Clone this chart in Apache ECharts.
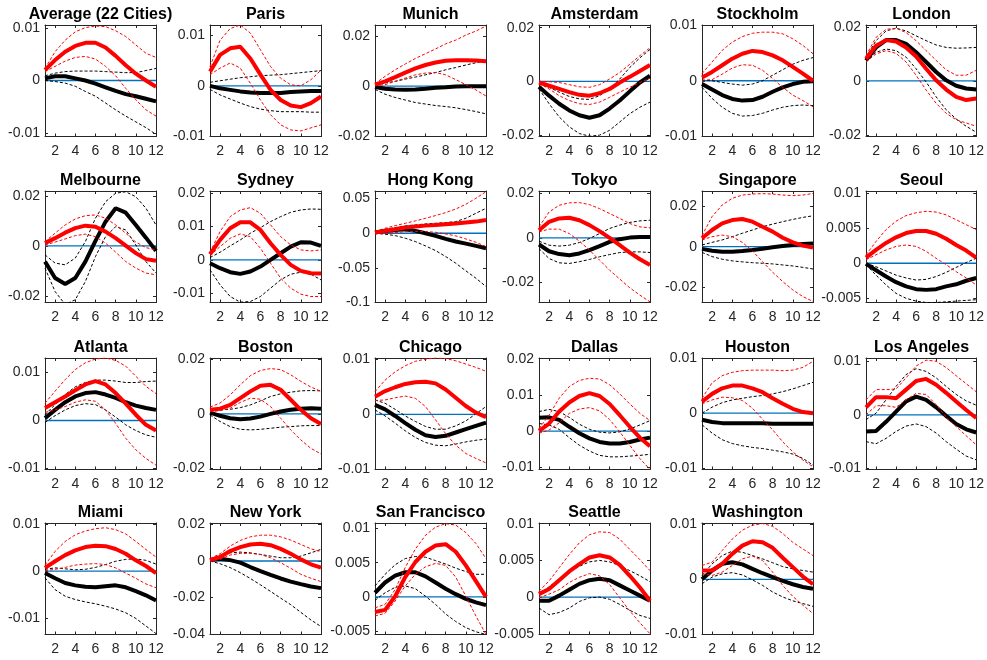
<!DOCTYPE html>
<html>
<head>
<meta charset="utf-8">
<script src="https://cdn.jsdelivr.net/npm/echarts@6/dist/echarts.min.js"></script>
<style>
html,body{margin:0;padding:0;background:#fff;}
#chart{width:987px;height:660px;}
</style>
</head>
<body>
<div id="chart"></div>
<script>
const cities = ['Average (22 Cities)','Paris','Munich','Amsterdam','Stockholm','London',
  'Melbourne','Sydney','Hong Kong','Tokyo','Singapore','Seoul',
  'Atlanta','Boston','Chicago','Dallas','Houston','Los Angeles',
  'Miami','New York','San Francisco','Seattle','Washington'];

const horizons = [1,2,3,4,5,6,7,8,9,10,11,12];
const xTicks = [2,4,6,8,10,12];

const yTicks = [
  [-0.01,0,0.01],[-0.01,0,0.01],[-0.02,0,0.02],[-0.02,0,0.02],[-0.01,0,0.01],[-0.02,0,0.02],
  [-0.02,0,0.02],[-0.01,0,0.01,0.02],[-0.1,-0.05,0,0.05],[-0.02,0,0.02],[-0.02,0,0.02],[-0.005,0,0.005,0.01],
  [-0.01,0,0.01],[-0.02,0,0.02],[-0.01,0,0.01],[-0.01,0,0.01,0.02],[-0.01,0,0.01],[-0.01,0,0.01],
  [-0.01,0,0.01],[-0.04,-0.02,0,0.02],[-0.005,0,0.005,0.01],[-0.005,0,0.005,0.01],[-0.01,0,0.01]
];

const yLimits = [
  [-0.0107,0.0106],[-0.0100,0.0120],[-0.0200,0.0243],[-0.0205,0.0210],[-0.0101,0.0101],[-0.0206,0.0207],
  [-0.0227,0.0220],[-0.0128,0.0207],[-0.1000,0.0610],[-0.0290,0.0210],[-0.0275,0.0274],[-0.0056,0.0103],
  [-0.0102,0.0130],[-0.0205,0.0206],[-0.0100,0.0102],[-0.0106,0.0202],[-0.0102,0.0100],[-0.0102,0.0106],
  [-0.0134,0.0102],[-0.0404,0.0209],[-0.0055,0.0108],[-0.0051,0.0101],[-0.0100,0.0102]
];

const blackMid = [
  [0.0004,0.0008,0.0008,0.0004,0,-0.0006,-0.0013,-0.0020,-0.0026,-0.0030,-0.0035,-0.0040],
  [0,-0.0005,-0.0008,-0.0011,-0.0013,-0.0014,-0.0014,-0.0014,-0.0012,-0.0011,-0.0010,-0.0010],
  [-0.0003,-0.0010,-0.0013,-0.0014,-0.0013,-0.0010,-0.0006,-0.0004,-0.0001,0,0,0],
  [-0.0020,-0.0053,-0.0083,-0.0108,-0.0126,-0.0135,-0.0126,-0.0101,-0.0071,-0.0037,-0.0004,0.0021],
  [-0.0006,-0.0016,-0.0026,-0.0033,-0.0036,-0.0035,-0.0029,-0.0020,-0.0012,-0.0006,-0.0002,-0.0001],
  [0.0076,0.0124,0.0151,0.0151,0.0137,0.0106,0.0070,0.0033,0.0002,-0.0018,-0.0028,-0.0032],
  [-0.0063,-0.0129,-0.0153,-0.0129,-0.0063,0.0020,0.0097,0.0151,0.0133,0.0084,0.0033,-0.0020],
  [-0.0010,-0.0025,-0.0037,-0.0042,-0.0035,-0.0020,0,0.0020,0.0040,0.0053,0.0052,0.0042],
  [0.0010,0.0034,0.0048,0.0058,0.0034,0,-0.0038,-0.0082,-0.0120,-0.0150,-0.0183,-0.0216],
  [-0.0030,-0.0060,-0.0073,-0.0078,-0.0070,-0.0055,-0.0037,-0.0018,-0.0006,0.0001,0.0004,0.0004],
  [-0.0011,-0.0020,-0.0025,-0.0025,-0.0021,-0.0016,-0.0010,-0.0003,0.0003,0.0008,0.0013,0.0016],
  [-0.0001,-0.0010,-0.0019,-0.0027,-0.0033,-0.0037,-0.0038,-0.0037,-0.0033,-0.0030,-0.0025,-0.0021],
  [0.0005,0.0022,0.0038,0.0050,0.0057,0.0059,0.0054,0.0047,0.0038,0.0031,0.0026,0.0022],
  [0.0005,-0.0007,-0.0016,-0.0020,-0.0017,-0.0010,0,0.0009,0.0015,0.0019,0.0021,0.0019],
  [0.0017,0.0009,-0.0003,-0.0016,-0.0028,-0.0038,-0.0041,-0.0039,-0.0033,-0.0027,-0.0021,-0.0015],
  [0.0037,0.0038,0.0031,0.0012,-0.0006,-0.0020,-0.0030,-0.0034,-0.0034,-0.0030,-0.0023,-0.0018],
  [-0.0012,-0.0016,-0.0018,-0.0018,-0.0018,-0.0018,-0.0018,-0.0019,-0.0019,-0.0019,-0.0019,-0.0019],
  [-0.0031,-0.0030,-0.0013,0.0006,0.0025,0.0034,0.0028,0.0014,-0.0002,-0.0017,-0.0027,-0.0033],
  [-0.0004,-0.0015,-0.0025,-0.0030,-0.0033,-0.0034,-0.0032,-0.0030,-0.0034,-0.0042,-0.0051,-0.0062],
  [0.0005,0.0013,0.0005,-0.0009,-0.0033,-0.0055,-0.0076,-0.0096,-0.0113,-0.0127,-0.0140,-0.0149],
  [0.0006,0.0021,0.0031,0.0036,0.0036,0.0030,0.0021,0.0012,0.0004,-0.0003,-0.0008,-0.0012],
  [-0.0005,-0.0005,0.0002,0.0010,0.0018,0.0023,0.0025,0.0023,0.0016,0.0009,0.0002,-0.0005],
  [0,0.0016,0.0028,0.0031,0.0027,0.0019,0.0011,0.0004,-0.0003,-0.0009,-0.0014,-0.0017]
];

const blackHi = [
  [0.0009,0.0014,0.0017,0.0018,0.0018,0.0018,0.0017,0.0016,0.0015,0.0015,0.0019,0.0023],
  [0.0007,0.0010,0.0013,0.0016,0.0018,0.0020,0.0021,0.0022,0.0024,0.0026,0.0028,0.0030],
  [0.0006,0.0013,0.0019,0.0028,0.0036,0.0045,0.0054,0.0065,0.0074,0.0084,0.0093,0.0101],
  [-0.0007,-0.0022,-0.0040,-0.0056,-0.0065,-0.0067,-0.0053,-0.0028,0.0009,0.0052,0.0088,0.0119],
  [0.0001,0,-0.0003,-0.0006,-0.0008,-0.0006,0,0.0010,0.0020,0.0030,0.0037,0.0042],
  [0.0088,0.0149,0.0185,0.0195,0.0185,0.0167,0.0149,0.0133,0.0124,0.0121,0.0122,0.0124],
  [-0.0036,-0.0069,-0.0076,-0.0049,0.0017,0.0111,0.0177,0.0211,0.0217,0.0197,0.0151,0.0084],
  [0.0007,0.0023,0.0042,0.0060,0.0080,0.0097,0.0115,0.0130,0.0143,0.0150,0.0153,0.0152],
  [0.0024,0.0058,0.0082,0.0106,0.0120,0.0135,0.0144,0.0154,0.0168,0.0216,0.0288,0.0360],
  [-0.0015,-0.0033,-0.0037,-0.0033,-0.0021,-0.0003,0.0019,0.0042,0.0057,0.0069,0.0076,0.0079],
  [0.0008,0.0021,0.0033,0.0049,0.0066,0.0082,0.0098,0.0111,0.0123,0.0134,0.0144,0.0152],
  [0,-0.0005,-0.0011,-0.0017,-0.0021,-0.0024,-0.0023,-0.0019,-0.0013,-0.0006,0.0001,0.0007],
  [0.0012,0.0033,0.0054,0.0070,0.0079,0.0084,0.0084,0.0082,0.0079,0.0079,0.0081,0.0082],
  [0.0012,0.0015,0.0017,0.0023,0.0033,0.0048,0.0064,0.0074,0.0080,0.0085,0.0086,0.0085],
  [0.0026,0.0020,0.0009,-0.0003,-0.0013,-0.0022,-0.0027,-0.0027,-0.0021,-0.0012,0.0001,0.0014],
  [0.0054,0.0060,0.0054,0.0038,0.0019,0.0005,-0.0003,-0.0005,-0.0002,0.0006,0.0017,0.0029],
  [0,0.0011,0.0019,0.0024,0.0027,0.0030,0.0032,0.0035,0.0039,0.0044,0.0050,0.0056],
  [-0.0009,0.0003,0.0028,0.0053,0.0075,0.0086,0.0081,0.0069,0.0053,0.0038,0.0026,0.0018],
  [0.0004,0.0007,0.0005,0.0003,0.0004,0.0008,0.0014,0.0021,0.0025,0.0026,0.0023,0.0015],
  [0.0009,0.0031,0.0045,0.0049,0.0045,0.0036,0.0027,0.0018,0.0018,0.0027,0.0045,0.0064],
  [0.0016,0.0033,0.0047,0.0056,0.0059,0.0058,0.0053,0.0048,0.0042,0.0037,0.0033,0.0033],
  [0.0004,0.0014,0.0024,0.0035,0.0042,0.0048,0.0050,0.0048,0.0043,0.0036,0.0029,0.0021],
  [0.0007,0.0028,0.0043,0.0051,0.0049,0.0043,0.0037,0.0030,0.0023,0.0019,0.0016,0.0013]
];

const blackLo = [
  [0,-0.0002,-0.0005,-0.0011,-0.0021,-0.0030,-0.0043,-0.0056,-0.0068,-0.0079,-0.0090,-0.0103],
  [-0.0007,-0.0018,-0.0026,-0.0034,-0.0041,-0.0046,-0.0049,-0.0051,-0.0051,-0.0051,-0.0052,-0.0052],
  [-0.0013,-0.0032,-0.0045,-0.0055,-0.0065,-0.0071,-0.0077,-0.0081,-0.0086,-0.0093,-0.0101,-0.0110],
  [-0.0028,-0.0083,-0.0132,-0.0169,-0.0194,-0.0204,-0.0200,-0.0182,-0.0151,-0.0120,-0.0096,-0.0077],
  [-0.0012,-0.0032,-0.0048,-0.0059,-0.0064,-0.0063,-0.0059,-0.0053,-0.0048,-0.0045,-0.0044,-0.0045],
  [0.0073,0.0106,0.0118,0.0112,0.0088,0.0045,-0.0004,-0.0059,-0.0107,-0.0141,-0.0168,-0.0190],
  [-0.0089,-0.0183,-0.0235,-0.0216,-0.0143,-0.0043,0.0037,0.0077,0.0064,0.0004,-0.0063,-0.0109],
  [-0.0030,-0.0075,-0.0110,-0.0127,-0.0125,-0.0110,-0.0085,-0.0060,-0.0043,-0.0037,-0.0043,-0.0060],
  [0,-0.0014,-0.0034,-0.0072,-0.0120,-0.0183,-0.0250,-0.0336,-0.0432,-0.0543,-0.0649,-0.0769],
  [-0.0048,-0.0093,-0.0112,-0.0115,-0.0107,-0.0097,-0.0085,-0.0075,-0.0066,-0.0063,-0.0063,-0.0066],
  [-0.0028,-0.0049,-0.0062,-0.0070,-0.0075,-0.0079,-0.0082,-0.0085,-0.0090,-0.0095,-0.0102,-0.0110],
  [-0.0002,-0.0017,-0.0031,-0.0043,-0.0050,-0.0054,-0.0056,-0.0056,-0.0055,-0.0054,-0.0053,-0.0052],
  [-0.0004,0.0010,0.0022,0.0031,0.0035,0.0033,0.0022,0.0007,-0.0009,-0.0021,-0.0030,-0.0035],
  [-0.0004,-0.0028,-0.0047,-0.0057,-0.0059,-0.0057,-0.0053,-0.0049,-0.0047,-0.0044,-0.0043,-0.0043],
  [0.0008,-0.0003,-0.0016,-0.0030,-0.0042,-0.0051,-0.0056,-0.0057,-0.0054,-0.0050,-0.0047,-0.0045],
  [0.0021,0.0017,0.0005,-0.0018,-0.0039,-0.0055,-0.0067,-0.0071,-0.0071,-0.0069,-0.0067,-0.0064],
  [-0.0021,-0.0036,-0.0048,-0.0055,-0.0059,-0.0062,-0.0064,-0.0067,-0.0070,-0.0074,-0.0082,-0.0094],
  [-0.0050,-0.0054,-0.0044,-0.0031,-0.0021,-0.0017,-0.0022,-0.0034,-0.0050,-0.0064,-0.0077,-0.0084],
  [-0.0014,-0.0039,-0.0053,-0.0060,-0.0065,-0.0069,-0.0074,-0.0080,-0.0088,-0.0100,-0.0116,-0.0132],
  [0,-0.0015,-0.0036,-0.0064,-0.0096,-0.0131,-0.0167,-0.0204,-0.0240,-0.0282,-0.0324,-0.0360],
  [-0.0005,0.0006,0.0014,0.0016,0.0012,0.0001,-0.0011,-0.0025,-0.0036,-0.0045,-0.0051,-0.0055],
  [-0.0015,-0.0024,-0.0021,-0.0015,-0.0006,-0.0001,0,-0.0003,-0.0010,-0.0018,-0.0025,-0.0029],
  [-0.0008,0.0004,0.0010,0.0012,0.0008,-0.0001,-0.0011,-0.0023,-0.0032,-0.0039,-0.0044,-0.0049]
];

const redMid = [
  [0.0020,0.0039,0.0055,0.0066,0.0072,0.0072,0.0063,0.0047,0.0029,0.0013,0,-0.0012],
  [0.0028,0.0061,0.0074,0.0077,0.0054,0.0022,-0.0008,-0.0028,-0.0039,-0.0042,-0.0034,-0.0021],
  [0.0006,0.0019,0.0036,0.0054,0.0071,0.0084,0.0094,0.0101,0.0103,0.0103,0.0102,0.0099],
  [-0.0004,-0.0016,-0.0028,-0.0040,-0.0050,-0.0053,-0.0044,-0.0028,-0.0004,0.0017,0.0039,0.0061],
  [0.0006,0.0016,0.0028,0.0040,0.0049,0.0054,0.0052,0.0046,0.0037,0.0025,0.0013,0],
  [0.0082,0.0130,0.0151,0.0146,0.0124,0.0090,0.0045,0.0002,-0.0032,-0.0059,-0.0071,-0.0065],
  [0.0011,0.0031,0.0053,0.0071,0.0081,0.0077,0.0057,0.0031,0.0001,-0.0029,-0.0053,-0.0060],
  [0.0017,0.0060,0.0095,0.0113,0.0113,0.0090,0.0050,0.0015,-0.0015,-0.0033,-0.0040,-0.0041],
  [0.0010,0.0034,0.0058,0.0082,0.0096,0.0110,0.0120,0.0130,0.0140,0.0154,0.0168,0.0192],
  [0.0034,0.0072,0.0087,0.0090,0.0079,0.0057,0.0030,0,-0.0033,-0.0066,-0.0096,-0.0122],
  [0.0041,0.0082,0.0115,0.0131,0.0136,0.0123,0.0098,0.0074,0.0044,0.0021,0.0005,-0.0005],
  [0.0008,0.0019,0.0029,0.0037,0.0043,0.0046,0.0046,0.0042,0.0035,0.0026,0.0018,0.0008],
  [0.0026,0.0038,0.0050,0.0063,0.0075,0.0082,0.0075,0.0057,0.0035,0.0012,-0.0009,-0.0021],
  [0.0015,0.0019,0.0033,0.0058,0.0083,0.0104,0.0107,0.0089,0.0052,0.0015,-0.0016,-0.0037],
  [0.0032,0.0042,0.0049,0.0055,0.0058,0.0059,0.0056,0.0045,0.0030,0.0015,0.0003,-0.0005],
  [0.0001,0.0021,0.0054,0.0079,0.0097,0.0105,0.0097,0.0075,0.0044,0.0012,-0.0018,-0.0042],
  [0.0021,0.0035,0.0045,0.0050,0.0050,0.0045,0.0038,0.0027,0.0017,0.0008,0.0002,0],
  [0.0014,0.0033,0.0033,0.0031,0.0047,0.0063,0.0067,0.0056,0.0041,0.0025,0.0009,-0.0006],
  [0.0007,0.0021,0.0034,0.0044,0.0051,0.0054,0.0053,0.0047,0.0037,0.0023,0.0011,-0.0004],
  [0.0005,0.0022,0.0055,0.0076,0.0091,0.0095,0.0087,0.0067,0.0040,0.0009,-0.0018,-0.0036],
  [-0.0022,-0.0019,0.0001,0.0029,0.0051,0.0066,0.0075,0.0077,0.0066,0.0046,0.0023,0],
  [0.0004,0.0011,0.0023,0.0035,0.0045,0.0054,0.0057,0.0054,0.0044,0.0029,0.0013,-0.0005],
  [0.0016,0.0016,0.0028,0.0046,0.0061,0.0069,0.0067,0.0057,0.0039,0.0022,0.0005,-0.0009]
];

const redHi = [
  [0.0023,0.0055,0.0077,0.0093,0.0101,0.0104,0.0103,0.0095,0.0084,0.0068,0.0052,0.0044],
  [0.0038,0.0090,0.0113,0.0120,0.0104,0.0071,0.0038,0.0015,0.0002,0,0.0012,0.0031],
  [0.0010,0.0039,0.0065,0.0088,0.0110,0.0129,0.0148,0.0168,0.0183,0.0203,0.0219,0.0239],
  [0,-0.0001,-0.0004,-0.0012,-0.0020,-0.0022,-0.0012,0.0009,0.0033,0.0064,0.0096,0.0125],
  [0.0013,0.0034,0.0055,0.0070,0.0080,0.0086,0.0088,0.0088,0.0085,0.0076,0.0064,0.0049],
  [0.0094,0.0161,0.0191,0.0195,0.0179,0.0149,0.0112,0.0076,0.0041,0.0021,0.0021,0.0039],
  [0.0017,0.0051,0.0084,0.0108,0.0121,0.0124,0.0111,0.0084,0.0051,0.0015,-0.0007,-0.0016],
  [0.0023,0.0085,0.0130,0.0150,0.0157,0.0140,0.0105,0.0070,0.0045,0.0030,0.0027,0.0030],
  [0.0024,0.0072,0.0110,0.0144,0.0178,0.0216,0.0255,0.0298,0.0350,0.0418,0.0505,0.0600],
  [0.0049,0.0116,0.0146,0.0157,0.0158,0.0149,0.0131,0.0109,0.0087,0.0064,0.0049,0.0045],
  [0.0054,0.0148,0.0205,0.0238,0.0254,0.0259,0.0261,0.0259,0.0254,0.0251,0.0254,0.0262],
  [0.0012,0.0031,0.0048,0.0060,0.0068,0.0072,0.0074,0.0073,0.0069,0.0062,0.0055,0.0048],
  [0.0036,0.0061,0.0085,0.0106,0.0120,0.0128,0.0130,0.0125,0.0113,0.0092,0.0071,0.0056],
  [0.0025,0.0040,0.0070,0.0107,0.0141,0.0160,0.0167,0.0163,0.0144,0.0120,0.0099,0.0083],
  [0.0041,0.0062,0.0077,0.0088,0.0096,0.0100,0.0102,0.0101,0.0097,0.0091,0.0085,0.0078],
  [0.0007,0.0044,0.0091,0.0123,0.0140,0.0146,0.0144,0.0128,0.0103,0.0075,0.0049,0.0029],
  [0.0027,0.0055,0.0068,0.0074,0.0077,0.0078,0.0078,0.0078,0.0077,0.0078,0.0083,0.0094],
  [0.0028,0.0047,0.0047,0.0048,0.0069,0.0091,0.0102,0.0100,0.0088,0.0073,0.0058,0.0043],
  [0.0013,0.0042,0.0063,0.0077,0.0085,0.0090,0.0092,0.0088,0.0079,0.0063,0.0046,0.0030],
  [0.0013,0.0040,0.0082,0.0113,0.0133,0.0142,0.0142,0.0133,0.0115,0.0091,0.0067,0.0051],
  [-0.0016,-0.0011,0.0011,0.0043,0.0070,0.0090,0.0102,0.0107,0.0105,0.0094,0.0078,0.0056],
  [0.0008,0.0022,0.0040,0.0058,0.0074,0.0085,0.0089,0.0088,0.0079,0.0065,0.0051,0.0036],
  [0.0025,0.0031,0.0052,0.0073,0.0089,0.0098,0.0101,0.0096,0.0083,0.0067,0.0055,0.0043]
];

const redLo = [
  [0.0017,0.0027,0.0037,0.0044,0.0046,0.0041,0.0027,0.0009,-0.0015,-0.0037,-0.0056,-0.0068],
  [0.0022,0.0035,0.0045,0.0035,0.0005,-0.0028,-0.0057,-0.0077,-0.0087,-0.0089,-0.0083,-0.0077],
  [0.0003,0.0006,0.0019,0.0032,0.0045,0.0052,0.0054,0.0045,0.0026,0.0006,-0.0015,-0.0039],
  [-0.0007,-0.0028,-0.0053,-0.0071,-0.0083,-0.0086,-0.0077,-0.0059,-0.0040,-0.0022,-0.0004,0.0012],
  [0.0001,0.0002,0.0012,0.0023,0.0029,0.0028,0.0019,0.0004,-0.0012,-0.0026,-0.0036,-0.0047],
  [0.0070,0.0100,0.0112,0.0102,0.0070,0.0021,-0.0034,-0.0083,-0.0120,-0.0144,-0.0156,-0.0168],
  [0.0004,0.0015,0.0028,0.0041,0.0047,0.0037,0.0011,-0.0025,-0.0063,-0.0089,-0.0109,-0.0116],
  [0.0013,0.0040,0.0065,0.0078,0.0070,0.0035,-0.0010,-0.0055,-0.0085,-0.0103,-0.0110,-0.0110],
  [0,0,0.0010,0.0024,0.0024,0.0024,0.0014,-0.0010,-0.0038,-0.0082,-0.0130,-0.0192],
  [0.0027,0.0039,0.0039,0.0019,-0.0015,-0.0055,-0.0100,-0.0145,-0.0185,-0.0224,-0.0257,-0.0287],
  [0.0033,0.0049,0.0057,0.0049,0.0021,-0.0021,-0.0074,-0.0126,-0.0172,-0.0213,-0.0246,-0.0270],
  [0.0005,0.0012,0.0019,0.0024,0.0026,0.0024,0.0017,0.0007,-0.0002,-0.0012,-0.0021,-0.0031],
  [0.0017,0.0022,0.0029,0.0038,0.0043,0.0040,0.0022,-0.0006,-0.0037,-0.0061,-0.0079,-0.0093],
  [0.0009,0.0012,0.0021,0.0042,0.0058,0.0054,0.0027,-0.0016,-0.0059,-0.0096,-0.0127,-0.0148],
  [0.0025,0.0026,0.0030,0.0033,0.0029,0.0014,-0.0010,-0.0035,-0.0056,-0.0071,-0.0080,-0.0088],
  [-0.0006,0.0003,0.0023,0.0049,0.0061,0.0065,0.0056,0.0032,-0.0002,-0.0039,-0.0076,-0.0106],
  [0.0017,0.0024,0.0029,0.0028,0.0023,0.0009,-0.0011,-0.0030,-0.0052,-0.0070,-0.0085,-0.0097],
  [0,0.0017,0.0017,0.0014,0.0028,0.0040,0.0038,0.0019,-0.0004,-0.0022,-0.0039,-0.0056],
  [0.0001,0.0004,0.0008,0.0013,0.0015,0.0016,0.0014,0.0007,-0.0004,-0.0015,-0.0027,-0.0035],
  [0,0.0009,0.0033,0.0042,0.0042,0.0036,0.0018,-0.0009,-0.0040,-0.0073,-0.0095,-0.0113],
  [-0.0028,-0.0024,-0.0006,0.0016,0.0033,0.0044,0.0049,0.0046,0.0029,0.0001,-0.0028,-0.0055],
  [-0.0001,0.0004,0.0010,0.0020,0.0027,0.0032,0.0029,0.0017,-0.0001,-0.0019,-0.0035,-0.0050],
  [0.0010,0.0007,0.0013,0.0025,0.0037,0.0042,0.0034,0.0013,-0.0011,-0.0031,-0.0047,-0.0062]
];

const zeroLine = [[1,0],[12,0]];

// layout
const colLeft = [45, 210, 375, 539, 702, 866];
const rowTop = [25, 191, 358, 523];
const panelW = 111;
const panelH = 111.5;
const FONT = "'Liberation Sans', Arial, Helvetica, sans-serif";
const AXIS_COLOR = '#262626';

const chart = echarts.init(document.getElementById('chart'), null, {renderer: 'canvas'});
const option = {
  animation: false,
  backgroundColor: '#ffffff',
  title: [], grid: [], xAxis: [], yAxis: [], series: []
};

const axisLineStyle = {show: true, onZero: false, lineStyle: {color: AXIS_COLOR, width: 1}};

cities.forEach((name, i) => {
  const col = i % 6, row = Math.floor(i / 6);
  const left = colLeft[col], top = rowTop[row];
  option.grid.push({left: left, top: top, width: panelW, height: panelH, containLabel: false});
  option.title.push({
    text: name, left: left + panelW / 2, top: top - 18, textAlign: 'center', padding: 0,
    textStyle: {fontFamily: FONT, fontSize: 16, fontWeight: 'bold', color: '#000'}
  });
  option.xAxis.push({
    type: 'value', gridIndex: i, min: 1, max: 12, position: 'bottom',
    axisLine: axisLineStyle,
    axisTick: {show: true, inside: true, length: 3, customValues: xTicks, lineStyle: {color: AXIS_COLOR}},
    axisLabel: {show: true, customValues: xTicks, margin: 8, color: AXIS_COLOR, fontFamily: FONT, fontSize: 14},
    splitLine: {show: false}
  });
  option.xAxis.push({
    type: 'value', gridIndex: i, min: 1, max: 12, position: 'top',
    axisLine: axisLineStyle,
    axisTick: {show: true, inside: true, length: 3, customValues: xTicks, lineStyle: {color: AXIS_COLOR}},
    axisLabel: {show: false}, splitLine: {show: false}
  });
  option.yAxis.push({
    type: 'value', gridIndex: i, min: yLimits[i][0], max: yLimits[i][1], position: 'left',
    axisLine: axisLineStyle,
    axisTick: {show: true, inside: true, length: 3, customValues: yTicks[i], lineStyle: {color: AXIS_COLOR}},
    axisLabel: {show: true, customValues: yTicks[i], margin: 5, color: AXIS_COLOR, fontFamily: FONT, fontSize: 14,
      formatter: v => String(v)},
    splitLine: {show: false}
  });
  option.yAxis.push({
    type: 'value', gridIndex: i, min: yLimits[i][0], max: yLimits[i][1], position: 'right',
    axisLine: axisLineStyle,
    axisTick: {show: true, inside: true, length: 3, customValues: yTicks[i], lineStyle: {color: AXIS_COLOR}},
    axisLabel: {show: false}, splitLine: {show: false}
  });
  const xi = 2 * i, yi = 2 * i;
  const mk = (arr) => horizons.map((h, k) => [h, arr[k]]);
  const base = {type: 'line', xAxisIndex: xi, yAxisIndex: yi, symbol: 'none', showSymbol: false,
    smooth: false, clip: true, silent: true, emphasis: {disabled: true}};
  option.series.push(Object.assign({}, base, {data: zeroLine, lineStyle: {color: '#0072BD', width: 1.3}}));
  option.series.push(Object.assign({}, base, {data: mk(blackHi[i]), lineStyle: {color: '#000', width: 1, type: [3, 2]}}));
  option.series.push(Object.assign({}, base, {data: mk(blackLo[i]), lineStyle: {color: '#000', width: 1, type: [3, 2]}}));
  option.series.push(Object.assign({}, base, {data: mk(blackMid[i]), lineStyle: {color: '#000', width: 4}}));
  option.series.push(Object.assign({}, base, {data: mk(redHi[i]), lineStyle: {color: '#ff0000', width: 1, type: [3, 2]}}));
  option.series.push(Object.assign({}, base, {data: mk(redLo[i]), lineStyle: {color: '#ff0000', width: 1, type: [3, 2]}}));
  option.series.push(Object.assign({}, base, {data: mk(redMid[i]), lineStyle: {color: '#ff0000', width: 4}}));
});

chart.setOption(option);
</script>
</body>
</html>
